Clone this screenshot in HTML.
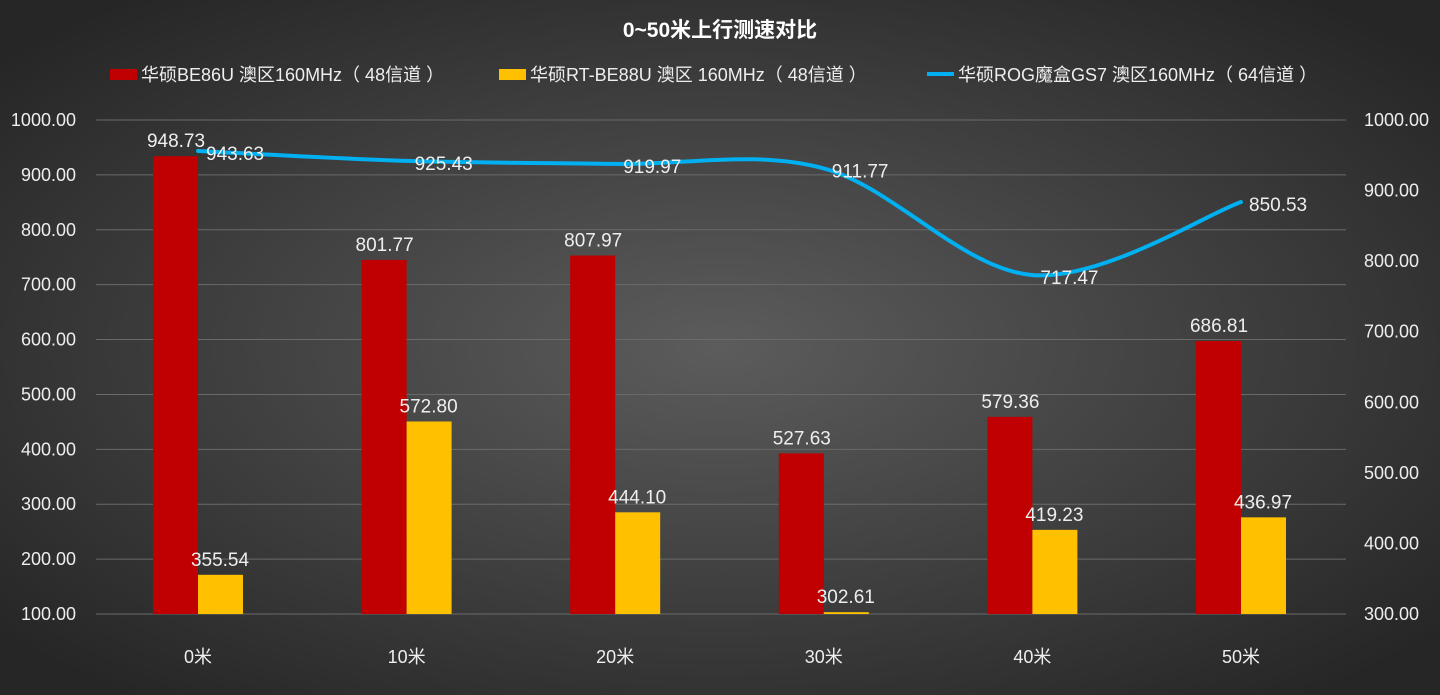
<!DOCTYPE html>
<html><head><meta charset="utf-8"><style>
html,body{margin:0;padding:0;width:1440px;height:695px;overflow:hidden;background:#333}
svg{display:block}
text{font-family:"Liberation Sans","Noto Sans CJK SC",sans-serif;fill:#eee}
</style></head><body>
<svg id="c" width="1440" height="695">
<defs><radialGradient id="bg" cx="50%" cy="50%" r="65%"><stop offset="0" stop-color="#5c5c5c"/><stop offset="1" stop-color="#262626"/></radialGradient></defs>
<rect width="1440" height="695" fill="url(#bg)"/>
<text x="720" y="37" text-anchor="middle" font-size="21" font-weight="bold" fill="#fff" style="fill:#fff">0~50米上行测速对比</text>
<g>
<g><rect x="110" y="69" width="27" height="11" fill="#c00000"/><text x="141" y="81" font-size="18">华硕BE86U 澳区160MHz（ 48信道 ）</text></g>
<g><rect x="499" y="69" width="27" height="11" fill="#ffc000"/><text x="530" y="81" font-size="18">华硕RT-BE88U 澳区 160MHz（ 48信道 ）</text></g>
<g><line x1="927" y1="74" x2="954" y2="74" stroke="#00b0f0" stroke-width="4"/><text x="958" y="81" font-size="18">华硕ROG魔盒GS7 澳区160MHz（ 64信道 ）</text></g>
</g>
<g id="grid"></g><g id="bars"></g><g id="line"></g><g id="labels"></g>
</svg>
<script>
const categories=["0米","10米","20米","30米","40米","50米"];
const be86u=[948.73,801.77,807.97,527.63,579.36,686.81];
const be88u=[355.54,572.80,444.10,302.61,419.23,436.97];
const gs7=[943.63,925.43,919.97,911.77,717.47,850.53];
const leftTicks=[100,200,300,400,500,600,700,800,900,1000];
const rightTicks=[300,400,500,600,700,800,900,1000];
const NS="http://www.w3.org/2000/svg";
const yL=v=>614-(v-100)*(494/900);
const yR=v=>614-(v-300)*(494/700);
const xC=i=>198+i*208.6;
function mk(tag,attrs,parent,txt){const e=document.createElementNS(NS,tag);for(const k in attrs)e.setAttribute(k,attrs[k]);if(txt!==undefined)e.textContent=txt;document.getElementById(parent).appendChild(e);return e;}
leftTicks.forEach(t=>{
 const g=mk("line",{x1:96,x2:1346,y1:yL(t),y2:yL(t),stroke:"#6a6a6a","stroke-width":1},"grid");
 
 
 const l=mk("text",{x:76,y:yL(t)+6,"text-anchor":"end","font-size":18},"grid",t.toFixed(2));
 
 
});
rightTicks.forEach(t=>{
 const l=mk("text",{x:1364,y:yR(t)+6,"font-size":18},"grid",t.toFixed(2));
 
 
});
categories.forEach((c,i)=>{
 const l=mk("text",{x:xC(i),y:663,"text-anchor":"middle","font-size":18},"grid",c);
 
 
 const b1=mk("rect",{x:xC(i)-45,y:yR(be86u[i]),width:45,height:614-yR(be86u[i]),fill:"#c00000"},"bars");
 
 
 const b2=mk("rect",{x:xC(i),y:yR(be88u[i]),width:45,height:614-yR(be88u[i]),fill:"#ffc000"},"bars");
 
 
 const t1=mk("text",{x:xC(i)-22,y:yR(be86u[i])-9,"text-anchor":"middle","font-size":19},"labels",be86u[i].toFixed(2));
 
 
 const t2=mk("text",{x:xC(i)+22,y:yR(be88u[i])-9,"text-anchor":"middle","font-size":19},"labels",be88u[i].toFixed(2));
 
 
 const t3=mk("text",{x:xC(i)+8,y:yL(gs7[i])+9,"font-size":19},"labels",gs7[i].toFixed(2));
 
 
});
const P=gs7.map((v,i)=>[xC(i),yL(v)]);
let d="M"+P[0][0]+","+P[0][1];
for(let i=0;i<P.length-1;i++){
 const p0=P[Math.max(i-1,0)],p1=P[i],p2=P[i+1],p3=P[Math.min(i+2,P.length-1)];
 const k=1/6;
 d+=` C${p1[0]+(p2[0]-p0[0])*k},${p1[1]+(p2[1]-p0[1])*k} ${p2[0]-(p3[0]-p1[0])*k},${p2[1]-(p3[1]-p1[1])*k} ${p2[0]},${p2[1]}`;
}
const ln=mk("path",{d:d,fill:"none",stroke:"#00b0f0","stroke-width":4,"stroke-linecap":"round"},"line");


</script>
</body></html>
